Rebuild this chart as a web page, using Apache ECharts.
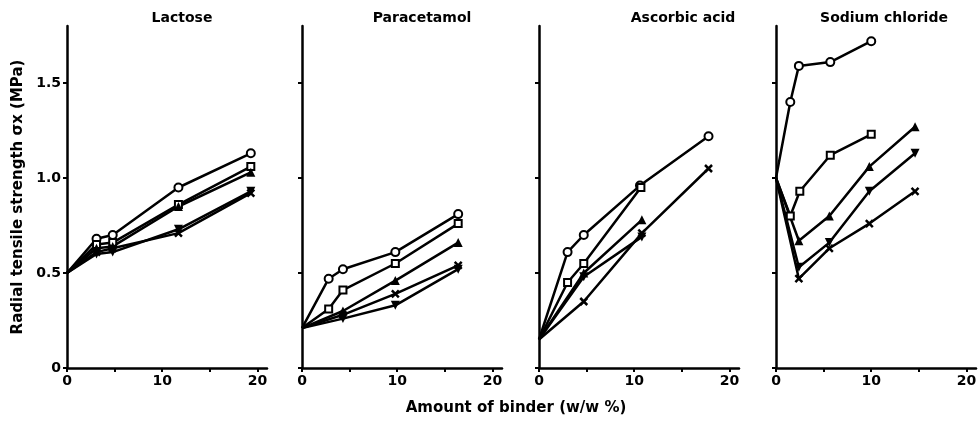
<!DOCTYPE html>
<html>
<head>
<meta charset="utf-8">
<script src="https://cdn.jsdelivr.net/npm/echarts@6/dist/echarts.min.js"></script>
<style>
html, body { margin: 0; padding: 0; background: #fff; }
#chart { width: 980px; height: 421px; }
</style>
</head>
<body>
<div id="chart"></div>
<script>
(function () {
    var mychart = echarts.init(document.getElementById('chart'));

    var panelNames = ['Lactose', 'Paracetamol', 'Ascorbic acid', 'Sodium chloride'];
    var xTicks = [0, 5, 10, 15, 20];
    var xLabels = [0, 10, 20];
    var yTicks = [0, 0.5, 1.0, 1.5];
    var yLabels = ['0', '0.5', '1.0', '1.5'];

    // [amount of binder %, radial tensile strength MPa]
    var lacCircle = [[0, 0.50], [3.1, 0.68], [4.8, 0.70], [11.7, 0.95], [19.3, 1.13]];
    var lacSquare = [[0, 0.50], [3.1, 0.65], [4.8, 0.66], [11.7, 0.86], [19.3, 1.06]];
    var lacTriangle = [[0, 0.50], [3.1, 0.63], [4.8, 0.64], [11.7, 0.85], [19.3, 1.03]];
    var lacInvTriangle = [[0, 0.50], [3.1, 0.60], [4.8, 0.61], [11.7, 0.73], [19.3, 0.93]];
    var lacCross = [[0, 0.50], [3.1, 0.61], [4.8, 0.63], [11.7, 0.71], [19.3, 0.92]];

    var parCircle = [[0, 0.21], [2.8, 0.47], [4.3, 0.52], [9.8, 0.61], [16.4, 0.81]];
    var parSquare = [[0, 0.21], [2.8, 0.31], [4.3, 0.41], [9.8, 0.55], [16.4, 0.76]];
    var parTriangle = [[0, 0.21], [4.3, 0.30], [9.8, 0.46], [16.4, 0.66]];
    var parInvTriangle = [[0, 0.21], [4.3, 0.26], [9.8, 0.33], [16.4, 0.52]];
    var parCross = [[0, 0.21], [4.3, 0.28], [9.8, 0.39], [16.4, 0.54]];

    var ascCircle = [[0, 0.15], [3.0, 0.61], [4.7, 0.70], [10.6, 0.96], [17.8, 1.22]];
    var ascSquare = [[0, 0.15], [3.0, 0.45], [4.7, 0.55], [10.7, 0.95]];
    var ascTriangle = [[0, 0.15], [4.7, 0.50], [10.8, 0.78]];
    var ascInvTriangle = [[0, 0.15], [4.7, 0.48], [10.8, 0.69]];
    var ascCross = [[0, 0.15], [4.7, 0.35], [10.8, 0.71], [17.8, 1.05]];

    var nacCircle = [[0, 1.00], [1.5, 1.40], [2.4, 1.59], [5.7, 1.61], [10.0, 1.72]];
    var nacSquare = [[0, 1.00], [1.5, 0.80], [2.5, 0.93], [5.7, 1.12], [10.0, 1.23]];
    var nacTriangle = [[0, 1.00], [2.4, 0.67], [5.6, 0.80], [9.8, 1.06], [14.6, 1.27]];
    var nacInvTriangle = [[0, 1.00], [2.4, 0.53], [5.6, 0.66], [9.8, 0.93], [14.6, 1.13]];
    var nacCross = [[0, 1.00], [2.4, 0.47], [5.6, 0.63], [9.8, 0.76], [14.6, 0.93]];

    var panels = [
        [lacCircle, lacSquare, lacTriangle, lacInvTriangle, lacCross],
        [parCircle, parSquare, parTriangle, parInvTriangle, parCross],
        [ascCircle, ascSquare, ascTriangle, ascInvTriangle, ascCross],
        [nacCircle, nacSquare, nacTriangle, nacInvTriangle, nacCross]
    ];

    var symbols = [
        { symbol: 'emptyCircle', size: 8, rotate: 0, width: 2 },
        { symbol: 'emptyRect', size: 7, rotate: 0, width: 2 },
        { symbol: 'triangle', size: 9, rotate: 0, width: 0 },
        { symbol: 'triangle', size: 9, rotate: 180, width: 0 },
        { symbol: 'path://M0,0L10,10M10,0L0,10', size: 7, rotate: 0, width: 2.5 }
    ];

    var gridLefts = [67, 302, 539, 776];
    var titleCenters = [177, 417, 678, 879];
    var fontFam = 'DejaVu Sans';

    var grid = [], xAxis = [], yAxis = [], series = [], title = [];
    gridLefts.forEach(function (left, i) {
        grid.push({ left: left, width: 200, top: 26, bottom: 53 });
        title.push({
            text: panelNames[i],
            left: titleCenters[i],
            top: 6,
            textAlign: 'center',
            textStyle: { fontFamily: fontFam, fontSize: 14, fontWeight: 'bold', color: '#000' }
        });
        xAxis.push({
            type: 'value',
            gridIndex: i,
            min: 0,
            max: 21,
            axisLine: { lineStyle: { color: '#000', width: 2.5 } },
            axisTick: { show: true, length: 4, customValues: xTicks, lineStyle: { color: '#000', width: 2 } },
            axisLabel: {
                customValues: xLabels,
                margin: 6,
                color: '#000',
                fontFamily: fontFam,
                fontSize: 14,
                fontWeight: 'bold'
            },
            splitLine: { show: false }
        });
        yAxis.push({
            type: 'value',
            gridIndex: i,
            min: 0,
            max: 1.8,
            axisLine: { show: true, lineStyle: { color: '#000', width: 2.5 } },
            axisTick: { show: true, length: 4, customValues: yTicks, lineStyle: { color: '#000', width: 2 } },
            axisLabel: {
                show: i === 0,
                customValues: yTicks,
                margin: 6,
                color: '#000',
                fontFamily: fontFam,
                fontSize: 14,
                fontWeight: 'bold',
                formatter: function (v) {
                    return yLabels[yTicks.indexOf(v)];
                }
            },
            splitLine: { show: false }
        });
        panels[i].forEach(function (data, k) {
            var s = symbols[k];
            // the shared starting point on the axis has no marker
            var pts = data.map(function (p, j) {
                return j === 0 ? { value: p, symbol: 'none' } : { value: p };
            });
            series.push({
                type: 'line',
                xAxisIndex: i,
                yAxisIndex: i,
                data: pts,
                symbol: s.symbol,
                symbolSize: s.size,
                symbolRotate: s.rotate,
                showAllSymbol: true,
                lineStyle: { color: '#000', width: 2.5 },
                itemStyle: { color: '#000', borderColor: '#000', borderWidth: s.width },
                z: 2
            });
        });
    });

    var option = {
        animation: false,
        backgroundColor: '#fff',
        title: title,
        grid: grid,
        xAxis: xAxis,
        yAxis: yAxis,
        series: series,
        graphic: [{
            type: 'text',
            x: 516,
            y: 408,
            style: {
                text: 'Amount of binder (w/w %)',
                fill: '#000',
                font: 'bold 15px "DejaVu Sans"',
                textAlign: 'center',
                textVerticalAlign: 'middle'
            }
        }, {
            type: 'text',
            x: 18,
            y: 197,
            rotation: Math.PI / 2,
            style: {
                text: 'Radial tensile strength σx (MPa)',
                fill: '#000',
                font: 'bold 15px "DejaVu Sans"',
                textAlign: 'center',
                textVerticalAlign: 'middle'
            }
        }]
    };
    mychart.setOption(option);
})();
</script>
</body>
</html>
